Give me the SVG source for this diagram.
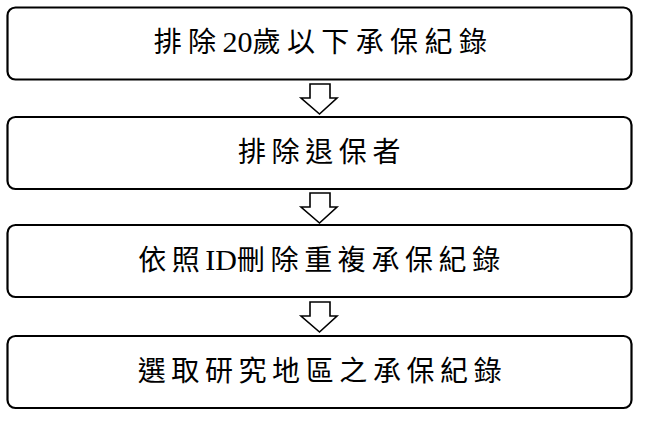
<svg xmlns="http://www.w3.org/2000/svg" width="646" height="422" viewBox="0 0 646 422">
<defs>
<style>
.box{fill:#fff;stroke:#000;stroke-width:2.2}
.lbl{font-family:"Liberation Serif","Noto Sans CJK TC",serif;font-size:28px;letter-spacing:5.6px;fill:#000;text-anchor:middle}
.lat{letter-spacing:0;font-size:30px}
.arr{fill:#fff;stroke:#000;stroke-width:1.6;stroke-linejoin:miter}
</style>
<path id="arrowShape" d="M310 0 H330 V14 H337 L319.5 30 L301 14 H310 Z"/>
</defs>
<rect width="646" height="422" fill="#fff"/>
<g id="node1"><rect class="box" x="7.5" y="7.5" width="624" height="72" rx="8"/><text class="lbl" x="323.5" y="52" style="letter-spacing:6.4px">排除<tspan class="lat">20</tspan>歲以下承保紀錄</text></g>
<g id="node2"><rect class="box" x="7.5" y="117" width="624" height="72" rx="8"/><text class="lbl" x="322" y="162">排除退保者</text></g>
<g id="node3"><rect class="box" x="7.5" y="225" width="624" height="72" rx="8"/><text class="lbl" x="322" y="270">依照<tspan class="lat">ID</tspan>刪除重複承保紀錄</text></g>
<g id="node4"><rect class="box" x="7.5" y="336" width="624" height="72" rx="8"/><text class="lbl" x="322.5" y="381">選取研究地區之承保紀錄</text></g>
<g id="connectors">
<use class="arr" href="#arrowShape" transform="translate(0,84)"/>
<use class="arr" href="#arrowShape" transform="translate(0,193)"/>
<use class="arr" href="#arrowShape" transform="translate(0,302)"/>
</g>
</svg>
